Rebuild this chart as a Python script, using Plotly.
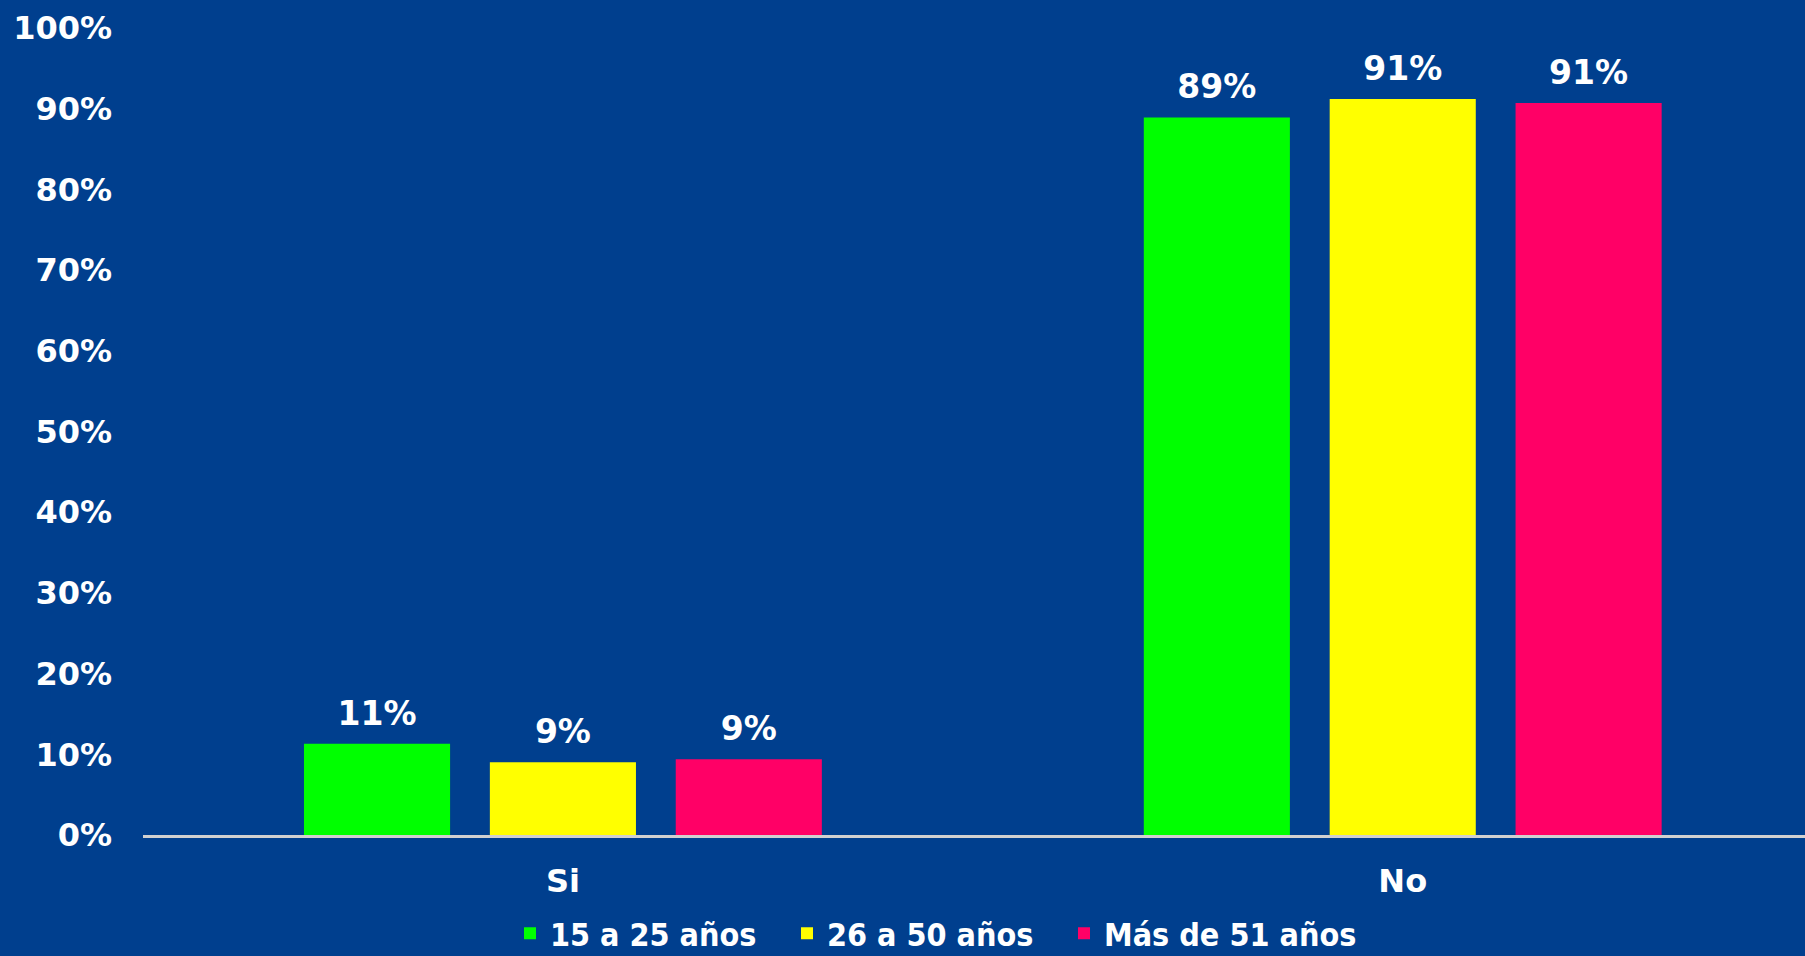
import plotly.graph_objects as go

categories = ["Si", "No"]
series_names = ["15 a 25 años", "26 a 50 años", "Más de 51 años"]
values_15_25 = [11.3, 88.9]
values_26_50 = [9.0, 91.2]
values_51 = [9.4, 90.7]
colors = ["#00FF00", "#FFFF00", "#FF0066"]
y_ticks = [0, 10, 20, 30, 40, 50, 60, 70, 80, 90, 100]
y_tick_labels = ["0%", "10%", "20%", "30%", "40%", "50%", "60%", "70%", "80%", "90%", "100%"]

BG = "#003F8E"
FONT = "DejaVu Sans"
GAP = 0.336

fig = go.Figure()
for i, (name, vals, col) in enumerate(zip(series_names, [values_15_25, values_26_50, values_51], colors)):
    fig.add_trace(go.Bar(
        name=name, x=categories, y=vals, offsetgroup=str(i),
        marker=dict(color=col, line=dict(width=0)),
        cliponaxis=False,
    ))
for i, vals in enumerate([values_15_25, values_26_50, values_51]):
    fig.add_trace(go.Scatter(
        x=categories, y=vals, offsetgroup=str(i), mode="markers+text",
        text=[f"{v:.0f}%" for v in vals], textposition="top center",
        marker=dict(size=16, color="rgba(0,0,0,0)"),
        textfont=dict(family=FONT, size=33, color="white", weight="bold"),
        showlegend=False, hoverinfo="skip", cliponaxis=False,
    ))
# empty legend spacer so the last legend label is not clipped
fig.add_trace(go.Scatter(
    x=[None], y=[None], offsetgroup="0", mode="markers", name=" ",
    marker=dict(size=1, color="rgba(0,0,0,0)"), showlegend=True, hoverinfo="skip",
))

fig.update_layout(
    width=1805, height=956,
    paper_bgcolor=BG, plot_bgcolor=BG,
    barmode="group", bargap=GAP, bargroupgap=0.214,
    scattermode="group", scattergap=GAP,
    margin=dict(l=143, r=0, t=28, b=121, autoexpand=False),
    font=dict(family=FONT, color="white", size=32, weight="bold"),
    showlegend=True,
    legend=dict(orientation="h", x=(510 - 143) / 1662, xanchor="left", y=-0.122, yanchor="middle",
                font=dict(family="DejaVu Sans Condensed", size=32, color="white", weight="bold"),
                itemwidth=30, entrywidth=232, entrywidthmode="pixels",
                traceorder="normal", bgcolor="rgba(0,0,0,0)", borderwidth=0),
    xaxis=dict(range=[-0.5, 1.479], showgrid=False, showline=True, linecolor="#D0D0D0",
               linewidth=3, ticks="", ticklabelstandoff=16,
               tickfont=dict(family=FONT, size=32, color="white", weight="bold")),
    yaxis=dict(range=[0, 100], tickmode="array", tickvals=y_ticks, ticktext=y_tick_labels,
               showgrid=False, zeroline=False, showline=False, ticks="", ticklabelstandoff=30,
               tickfont=dict(family=FONT, size=32, color="white", weight="bold")),
)

fig.write_html("out.html", config={"displayModeBar": False},
               post_script="document.body.style.margin='0';document.body.style.background='%s';" % BG)
